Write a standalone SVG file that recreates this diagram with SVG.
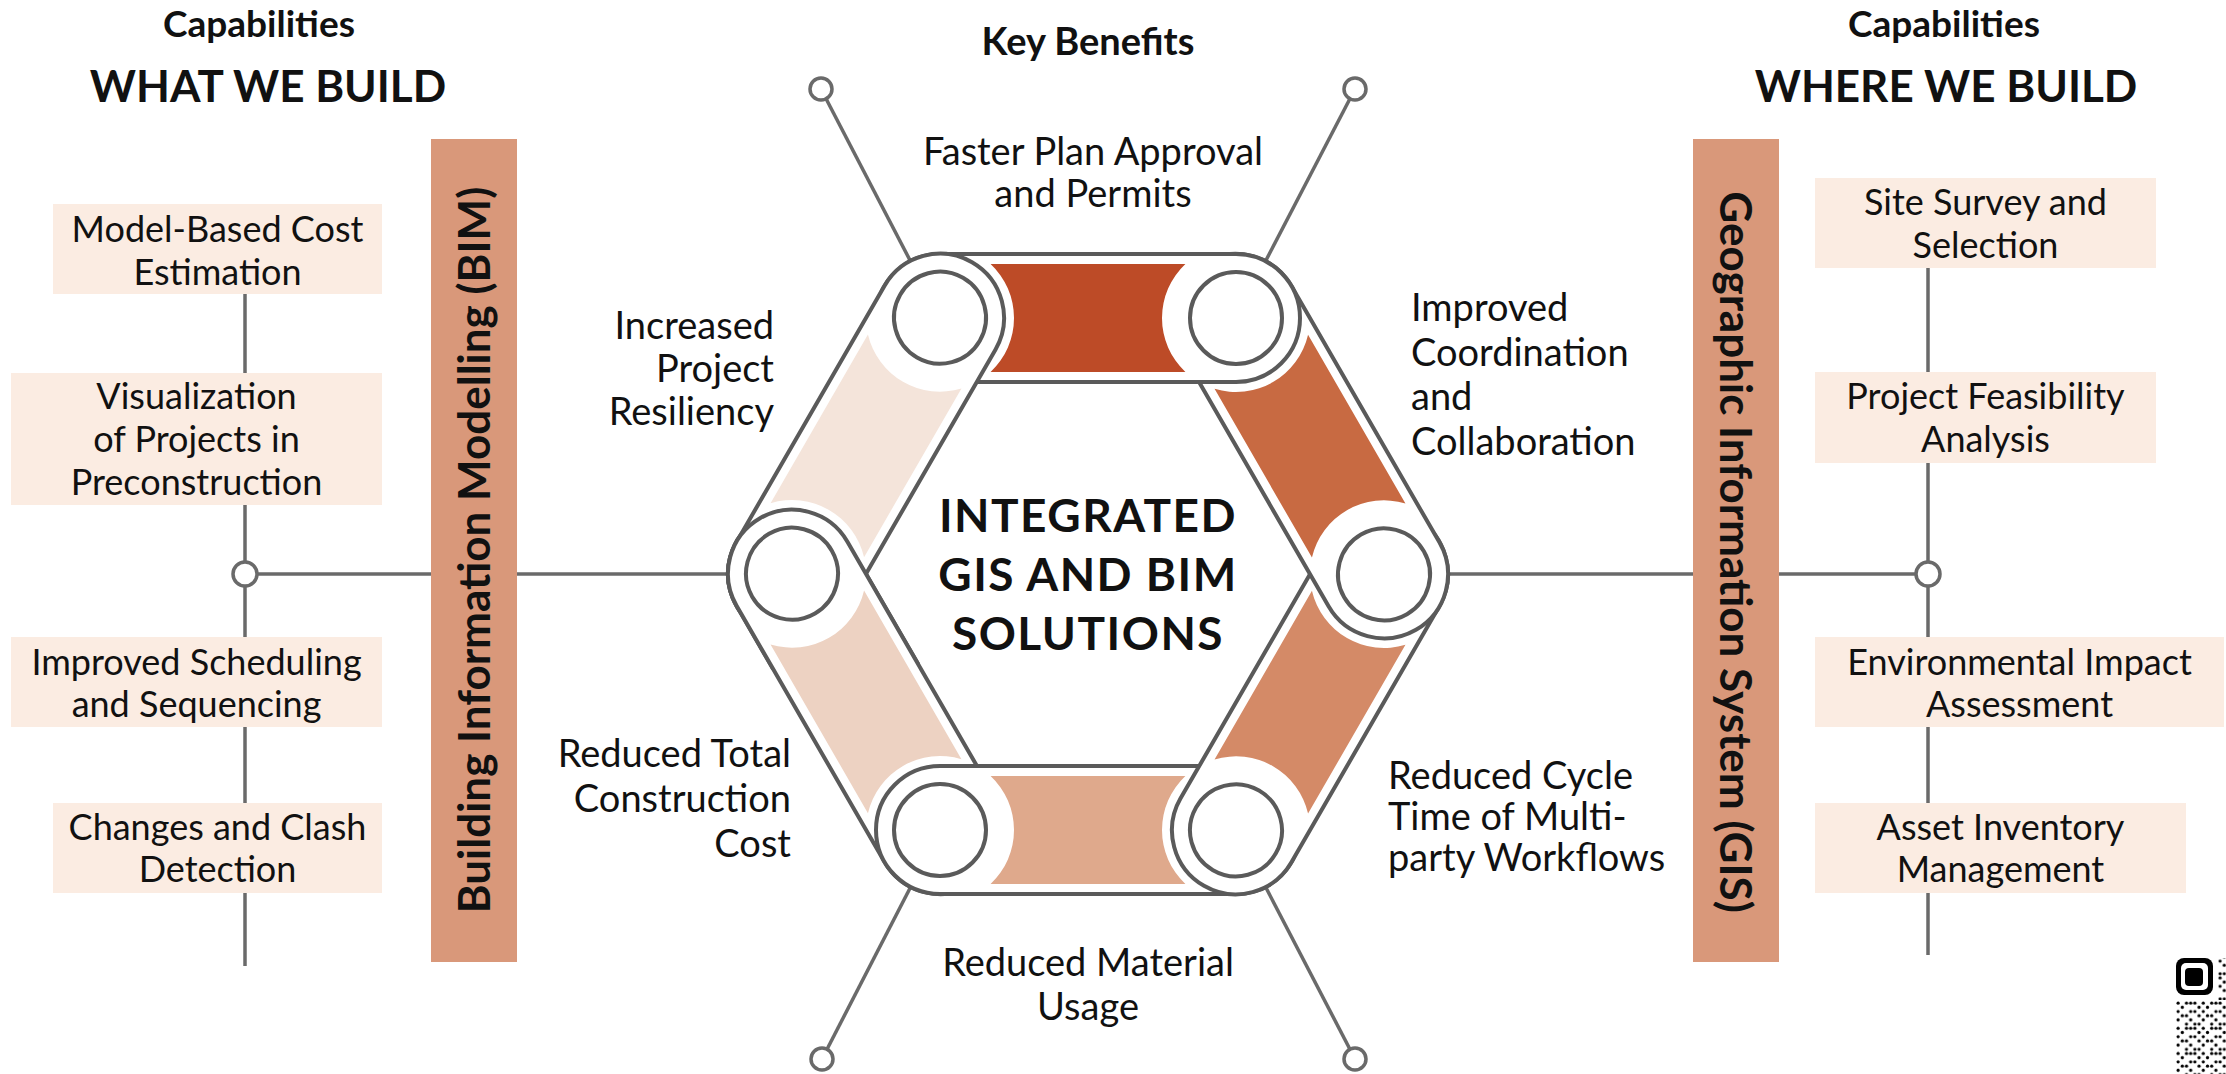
<svg xmlns="http://www.w3.org/2000/svg" xmlns:xlink="http://www.w3.org/1999/xlink" width="2226" height="1074" viewBox="0 0 2226 1074">
<style>
.t{font-family:Lato,'Liberation Sans',Arial,sans-serif;fill:#111}
.b{font-weight:700}
.bx{fill:#FBECE2}
.bar{fill:#D9987A}
.ln{stroke:#6a6a6a;stroke-width:3.5;fill:none}
.pin{fill:#fff;stroke:#6a6a6a;stroke-width:3.5}
.belt{fill:#fff;stroke:#5a5a5a;stroke-width:4}
.rl{fill:#fff;stroke:#5a5a5a;stroke-width:4}
.bt{font-size:36px}
.lb{font-size:38px}
.ttl{font-size:46px;letter-spacing:1.5px}
</style>
<defs>
<path id="capsule" class="belt" d="M0,-64 H296 A64,64 0 0 1 296,64 H0 A64,64 0 0 1 0,-64 Z"/>
<path id="band" d="M50.6,-54 H245.4 A74,74 0 0 0 245.4,54 H50.6 A74,74 0 0 0 50.6,-54 Z"/>
<g id="rollers"><circle class="rl" cx="0" cy="0" r="46"/><circle class="rl" cx="296" cy="0" r="46"/></g>
<clipPath id="clipL"><rect x="690" y="470" width="230" height="200"/></clipPath>
<pattern id="qr" patternUnits="userSpaceOnUse" x="2176" y="1001" width="25.2" height="25.2">
<g fill="#000">
<circle cx="2.1" cy="2.1" r="1.6"/><circle cx="10.5" cy="2.1" r="1.6"/><circle cx="14.7" cy="2.1" r="1.6"/><circle cx="18.9" cy="2.1" r="1.6"/>
<circle cx="6.3" cy="6.3" r="1.6"/><circle cx="23.1" cy="6.3" r="1.6"/>
<circle cx="2.1" cy="10.5" r="1.6"/><circle cx="14.7" cy="10.5" r="1.6"/><circle cx="18.9" cy="10.5" r="1.6"/>
<circle cx="6.3" cy="14.7" r="1.6"/><circle cx="10.5" cy="14.7" r="1.6"/><circle cx="23.1" cy="14.7" r="1.6"/>
<circle cx="2.1" cy="18.9" r="1.6"/><circle cx="14.7" cy="18.9" r="1.6"/>
<circle cx="10.5" cy="23.1" r="1.6"/><circle cx="18.9" cy="23.1" r="1.6"/><circle cx="23.1" cy="23.1" r="1.6"/>
</g>
</pattern>
</defs>
<rect width="2226" height="1074" fill="#fff"/>

<g id="connectors">
<line class="ln" x1="245" y1="294" x2="245" y2="966"/>
<line class="ln" x1="1928" y1="268" x2="1928" y2="955"/>
<line class="ln" x1="245" y1="574" x2="792" y2="574"/>
<line class="ln" x1="1384" y1="574" x2="1928" y2="574"/>
<line class="ln" x1="821" y1="89" x2="940" y2="318"/>
<line class="ln" x1="1355" y1="89" x2="1236" y2="318"/>
<line class="ln" x1="822" y1="1059" x2="940" y2="830"/>
<line class="ln" x1="1355" y1="1059" x2="1236" y2="830"/>
<circle class="pin" cx="245" cy="574" r="12"/>
<circle class="pin" cx="1928" cy="574" r="12"/>
<circle class="pin" cx="821" cy="89" r="11"/>
<circle class="pin" cx="1355" cy="89" r="11"/>
<circle class="pin" cx="822" cy="1059" r="11"/>
<circle class="pin" cx="1355" cy="1059" r="11"/>
</g>

<g id="heading-left">
<text class="t b" x="259" y="37" font-size="37" text-anchor="middle">Capabilities</text>
<text class="t b" x="268" y="102" font-size="44" text-anchor="middle">WHAT WE BUILD</text>
</g>
<g id="heading-center">
<text class="t b" x="1088" y="55" font-size="38" text-anchor="middle">Key Benefits</text>
</g>
<g id="heading-right">
<text class="t b" x="1944" y="37" font-size="37" text-anchor="middle">Capabilities</text>
<text class="t b" x="1946" y="102" font-size="44" text-anchor="middle">WHERE WE BUILD</text>
</g>

<g id="bim-bar">
<rect class="bar" x="431" y="139" width="86" height="823"/>
<text class="t b" transform="translate(490,550) rotate(-90)" font-size="44" text-anchor="middle">Building Information Modelling (BIM)</text>
</g>
<g id="gis-bar">
<rect class="bar" x="1693" y="139" width="86" height="823"/>
<text class="t b" transform="translate(1720,552) rotate(90)" font-size="44" text-anchor="middle">Geographic Information System (GIS)</text>
</g>

<g id="box-cost-estimation">
<rect class="bx" x="53" y="204" width="329" height="90"/>
<text class="t bt" text-anchor="middle"><tspan x="217.5" y="242">Model-Based Cost</tspan><tspan x="217.5" y="285">Estimation</tspan></text>
</g>
<g id="box-visualization">
<rect class="bx" x="11" y="373" width="371" height="132"/>
<text class="t bt" text-anchor="middle"><tspan x="196.5" y="409">Visualization</tspan><tspan x="196.5" y="452">of Projects in</tspan><tspan x="196.5" y="495">Preconstruction</tspan></text>
</g>
<g id="box-scheduling">
<rect class="bx" x="11" y="637" width="371" height="90"/>
<text class="t bt" text-anchor="middle"><tspan x="196.5" y="675">Improved Scheduling</tspan><tspan x="196.5" y="717">and Sequencing</tspan></text>
</g>
<g id="box-clash">
<rect class="bx" x="53" y="803" width="329" height="90"/>
<text class="t bt" text-anchor="middle"><tspan x="217.5" y="840">Changes and Clash</tspan><tspan x="217.5" y="882">Detection</tspan></text>
</g>

<g id="box-site-survey">
<rect class="bx" x="1815" y="178" width="341" height="90"/>
<text class="t bt" text-anchor="middle"><tspan x="1985.5" y="215">Site Survey and</tspan><tspan x="1985.5" y="258">Selection</tspan></text>
</g>
<g id="box-feasibility">
<rect class="bx" x="1815" y="372" width="341" height="91"/>
<text class="t bt" text-anchor="middle"><tspan x="1985.5" y="409">Project Feasibility</tspan><tspan x="1985.5" y="452">Analysis</tspan></text>
</g>
<g id="box-environmental">
<rect class="bx" x="1815" y="637" width="409" height="90"/>
<text class="t bt" text-anchor="middle"><tspan x="2019.5" y="675">Environmental Impact</tspan><tspan x="2019.5" y="717">Assessment</tspan></text>
</g>
<g id="box-asset">
<rect class="bx" x="1815" y="803" width="371" height="90"/>
<text class="t bt" text-anchor="middle"><tspan x="2000.5" y="840">Asset Inventory</tspan><tspan x="2000.5" y="882">Management</tspan></text>
</g>

<g id="hexagon">
<g id="belt-6" transform="translate(940,830) rotate(240)"><use href="#capsule"/><use href="#band" fill="#EDD2C2"/><use href="#rollers"/></g>
<g id="belt-5" transform="translate(1236,830) rotate(180)"><use href="#capsule"/><use href="#band" fill="#DFA98C"/><use href="#rollers"/></g>
<g id="belt-4" transform="translate(1384,574) rotate(120)"><use href="#capsule"/><use href="#band" fill="#D48A67"/><use href="#rollers"/></g>
<g id="belt-3" transform="translate(1236,318) rotate(60)"><use href="#capsule"/><use href="#band" fill="#C86A42"/><use href="#rollers"/></g>
<g id="belt-2" transform="translate(940,318)"><use href="#capsule"/><use href="#band" fill="#BD4B27"/><use href="#rollers"/></g>
<g id="belt-1" transform="translate(792,574) rotate(-60)"><use href="#capsule"/><use href="#band" fill="#F4E4DA"/><use href="#rollers"/></g>
<g id="belt-6-overlap" clip-path="url(#clipL)"><g transform="translate(940,830) rotate(240)"><use href="#capsule"/><use href="#band" fill="#EDD2C2"/><use href="#rollers"/></g></g>
</g>

<g id="center-title">
<text class="t b ttl" x="1088" y="532" text-anchor="middle">INTEGRATED</text>
<text class="t b ttl" x="1088" y="591" text-anchor="middle">GIS AND BIM</text>
<text class="t b ttl" x="1088" y="650" text-anchor="middle">SOLUTIONS</text>
</g>

<g id="benefit-plan-approval"><text class="t lb" text-anchor="middle"><tspan x="1093" y="165">Faster Plan Approval</tspan><tspan x="1093" y="207">and Permits</tspan></text></g>
<g id="benefit-resiliency"><text class="t lb" text-anchor="end"><tspan x="774" y="339">Increased</tspan><tspan x="774" y="382">Project</tspan><tspan x="774" y="425">Resiliency</tspan></text></g>
<g id="benefit-coordination"><text class="t lb"><tspan x="1411" y="321">Improved</tspan><tspan x="1411" y="366">Coordination</tspan><tspan x="1411" y="410">and</tspan><tspan x="1411" y="455">Collaboration</tspan></text></g>
<g id="benefit-construction-cost"><text class="t lb" text-anchor="end"><tspan x="791" y="767">Reduced Total</tspan><tspan x="791" y="812">Construction</tspan><tspan x="791" y="857">Cost</tspan></text></g>
<g id="benefit-cycle-time"><text class="t lb"><tspan x="1388" y="789">Reduced Cycle</tspan><tspan x="1388" y="830">Time of Multi-</tspan><tspan x="1388" y="871">party Workflows</tspan></text></g>
<g id="benefit-material"><text class="t lb" text-anchor="middle"><tspan x="1088" y="976">Reduced Material</tspan><tspan x="1088" y="1020">Usage</tspan></text></g>

<g id="qr-code">
<rect x="2176" y="958" width="37" height="37" rx="8" fill="#000"/>
<rect x="2181" y="963" width="27" height="27" rx="5" fill="#fff"/>
<rect x="2185" y="968" width="18" height="18" rx="4" fill="#000"/>
<rect x="2176" y="1001" width="50" height="73" fill="url(#qr)"/>
<rect x="2218" y="958" width="8" height="42" fill="url(#qr)"/>
</g>
</svg>
